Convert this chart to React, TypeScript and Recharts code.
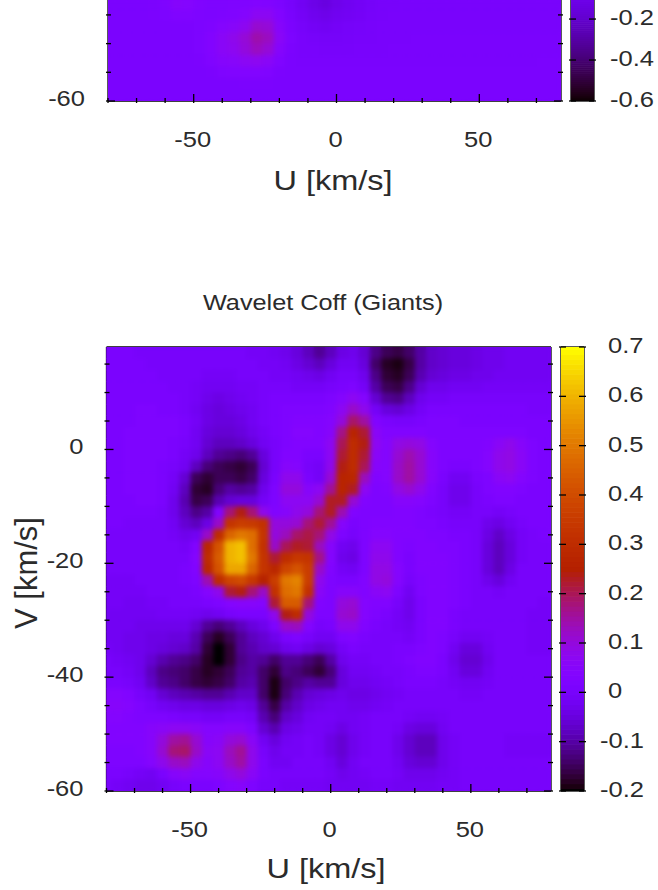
import React from "react";
import { ScatterChart, Scatter, XAxis, YAxis } from "recharts";

const U_CENTERS = [-80, -76, -72, -68, -64, -60, -56, -52, -48, -44, -40, -36, -32, -28, -24, -20, -16, -12, -8, -4, 0, 4, 8, 12, 16, 20, 24, 28, 32, 36, 40, 44, 48, 52, 56, 60, 64, 68, 72, 76];
const GIANT_V = [17, 15, 13, 11, 9, 7, 5, 3, 1, -1, -3, -5, -7, -9, -11, -13, -15, -17, -19, -21, -23, -25, -27, -29, -31, -33, -35, -37, -39, -41, -43, -45, -47, -49, -51, -53, -55, -57, -59];
const TOP_V = [-43, -45, -47, -49, -51, -53, -55, -57, -59];

// wavelet coefficient x 100, top row first
const GIANT_COEFF = [
  [1,1,1,0,0,0,0,0,0,0,0,0,0,-1,-1,-2,-3,-5,-8,-11,-8,-4,-3,-6,-12,-15,-16,-14,-10,-7,-6,-5,-5,-4,-3,-3,-2,-2,-2,-2],
  [1,1,1,1,0,0,0,0,0,0,0,0,0,0,-1,-1,-2,-4,-6,-8,-5,-2,-2,-5,-14,-18,-19,-16,-10,-7,-6,-5,-5,-4,-3,-3,-2,-2,-2,-2],
  [1,1,1,1,1,0,0,0,0,-1,-1,-1,0,0,0,-1,-1,-2,-3,-4,-2,0,0,-3,-12,-17,-18,-15,-9,-6,-5,-4,-4,-3,-3,-2,-2,-2,-2,-2],
  [1,1,1,1,1,1,0,0,-1,-2,-2,-2,-1,-1,0,0,0,-1,-1,-1,0,1,2,-1,-10,-15,-16,-12,-6,-3,-3,-2,-2,-2,-1,-1,-1,-1,-1,-1],
  [1,1,1,1,1,1,1,0,-1,-3,-4,-3,-2,-1,0,1,1,1,1,1,2,4,7,4,-6,-11,-12,-8,-3,-1,-1,0,0,0,0,0,0,0,0,0],
  [1,1,1,2,2,1,1,0,-2,-4,-5,-4,-3,-2,0,1,2,2,2,2,3,7,12,8,-1,-5,-6,-4,-1,1,1,1,1,1,1,1,1,1,0,0],
  [1,1,1,2,2,2,2,1,-1,-4,-5,-5,-4,-2,0,1,2,3,3,3,4,10,19,15,3,1,0,0,1,2,2,2,1,1,1,1,1,1,1,1],
  [1,1,2,2,2,2,2,1,-2,-5,-6,-6,-5,-3,-1,1,2,4,4,3,5,17,27,22,6,3,3,3,3,2,2,2,2,2,2,2,2,2,1,1],
  [1,1,2,2,2,2,1,0,-2,-6,-8,-8,-7,-5,-2,0,2,3,3,3,7,20,30,24,7,4,9,10,9,4,2,2,2,2,3,6,8,5,2,1],
  [1,1,2,2,2,2,1,-1,-3,-8,-11,-12,-13,-11,-5,0,3,3,1,1,7,22,30,22,6,4,11,14,11,5,2,2,2,2,4,8,9,6,2,1],
  [1,1,2,2,2,1,0,-2,-8,-13,-15,-16,-17,-15,-6,0,5,4,0,-1,8,24,30,20,5,4,12,15,11,5,2,1,1,2,4,8,9,6,2,1],
  [1,1,2,2,2,1,-1,-6,-15,-17,-15,-15,-16,-14,-5,1,8,8,1,-1,11,27,28,13,3,4,12,15,11,5,1,-2,-2,1,2,6,7,4,2,1],
  [1,1,2,2,2,1,-2,-8,-17,-18,-13,-10,-11,-10,-3,2,10,10,5,7,16,27,23,7,2,3,9,11,8,3,0,-3,-3,0,2,3,3,2,1,1],
  [1,1,1,2,2,1,-3,-9,-16,-15,-9,-6,-5,-5,-1,2,7,7,7,11,23,23,11,3,2,2,5,5,4,2,0,-3,-3,0,1,2,2,1,1,1],
  [1,1,1,1,1,0,-3,-8,-12,-10,3,18,24,18,8,3,5,8,10,18,23,14,3,2,2,2,3,3,2,1,0,-1,-1,0,0,-1,0,1,1,1],
  [1,1,0,0,0,0,-2,-6,-8,-4,12,33,36,35,32,10,10,11,18,22,16,5,1,2,3,3,3,3,2,2,1,0,0,0,-3,-4,-2,0,1,1],
  [0,0,0,0,0,0,-1,-3,-2,12,30,46,50,48,33,10,13,19,21,18,9,2,0,2,4,4,3,3,3,2,2,1,1,0,-4,-7,-4,-1,0,1],
  [0,0,0,0,0,0,0,-1,3,28,42,60,62,48,32,12,20,23,22,13,5,-2,-3,2,7,7,3,2,3,3,2,2,1,0,-5,-8,-5,-1,0,0],
  [0,0,0,0,0,0,0,0,4,30,44,60,62,50,33,22,30,34,33,17,4,-3,-4,2,8,8,3,1,3,3,3,2,1,0,-5,-8,-5,-1,0,0],
  [0,0,0,0,0,0,0,1,3,28,42,58,58,46,33,28,38,42,36,12,3,-1,-2,2,9,9,4,1,3,3,3,2,1,0,-5,-8,-4,0,0,0],
  [-1,-1,-1,0,0,0,0,1,2,14,30,38,40,34,26,36,50,52,36,8,2,1,1,3,9,10,4,0,2,3,3,2,1,0,-3,-5,-2,0,0,0],
  [-1,-1,-1,-1,0,0,0,0,1,4,8,22,24,18,12,32,48,50,32,6,2,5,5,3,6,7,2,-2,2,3,3,2,1,0,0,-1,0,0,0,0],
  [-1,-1,-2,-2,-1,-1,0,0,0,1,2,4,5,5,4,22,44,44,18,3,2,10,11,4,3,3,0,-3,1,3,3,2,1,0,0,0,0,0,0,-1],
  [-2,-2,-2,-2,-2,-1,-1,-1,-2,-3,-2,0,1,1,1,8,24,30,10,2,2,11,12,4,2,1,-1,-3,1,3,3,1,0,0,0,0,0,0,-1,-1],
  [-2,-2,-2,-3,-3,-3,-3,-3,-6,-11,-13,-11,-8,-5,-3,2,12,13,4,0,1,8,8,3,1,0,-1,-2,1,3,3,1,0,0,0,0,0,0,-1,-1],
  [-2,-2,-3,-3,-4,-4,-5,-5,-9,-15,-18,-15,-11,-8,-6,-3,1,2,0,-2,-2,2,3,1,0,0,0,-1,1,3,2,0,-2,-2,-1,0,0,0,-1,-1],
  [-1,-2,-3,-3,-4,-5,-6,-7,-10,-17,-20,-17,-11,-9,-7,-6,-3,-2,-4,-6,-5,-1,1,0,0,0,1,1,2,3,2,-2,-5,-5,-2,0,0,0,-1,-1],
  [0,-1,-2,-3,-6,-9,-11,-12,-14,-18,-20,-17,-12,-10,-11,-14,-11,-11,-13,-15,-10,-3,-1,-1,0,0,1,2,3,3,1,-3,-6,-6,-3,0,0,0,0,0],
  [0,0,-1,-3,-8,-12,-13,-14,-16,-18,-17,-15,-11,-10,-14,-17,-12,-13,-15,-17,-13,-5,-2,-2,-1,0,0,1,2,2,1,-2,-5,-5,-2,0,0,0,0,0],
  [1,1,0,-2,-7,-11,-12,-14,-16,-17,-16,-14,-10,-9,-14,-19,-14,-12,-10,-11,-11,-5,-3,-3,-2,-1,0,1,1,1,0,-1,-2,-2,-1,0,0,0,0,0],
  [4,4,3,0,-2,-6,-8,-9,-10,-11,-11,-9,-7,-7,-14,-19,-13,-9,-6,-5,-4,-3,-4,-4,-3,-2,-1,0,0,0,0,0,-1,-1,0,0,0,0,0,0],
  [5,5,4,2,0,-2,-3,-4,-4,-5,-5,-4,-3,-4,-11,-16,-10,-7,-4,-3,-2,-2,-3,-3,-2,-1,0,0,0,0,0,0,0,0,0,0,0,0,0,0],
  [4,4,3,2,2,2,1,0,0,-1,-1,0,0,-1,-9,-13,-7,-5,-2,-1,-1,-2,-2,-1,0,0,0,-1,-2,-2,-1,0,0,0,0,0,0,0,0,0],
  [3,3,3,3,5,6,7,7,6,4,4,5,5,2,-6,-9,-4,-3,-1,-1,-2,-4,-2,-1,0,0,-1,-4,-5,-5,-2,0,0,0,0,0,0,0,0,0],
  [3,3,3,3,5,10,15,16,11,5,6,10,11,6,-2,-5,-2,-1,0,-1,-4,-6,-3,-1,0,0,-3,-6,-8,-8,-3,-1,0,0,0,0,-1,-1,-1,-1],
  [2,2,2,3,5,11,18,19,12,6,7,13,16,8,0,-3,-1,-1,0,-1,-4,-6,-3,-1,0,0,-3,-6,-8,-8,-3,-1,0,0,0,0,-1,-1,-1,-1],
  [2,2,2,2,4,8,12,13,8,5,7,12,15,8,1,-2,-2,0,0,0,-2,-5,-2,0,0,0,-2,-5,-6,-6,-3,-1,0,0,0,0,0,0,0,0],
  [1,1,0,-1,-2,1,5,6,4,4,5,8,10,6,1,0,0,0,0,0,-1,-3,-2,-1,0,0,-1,-3,-3,-3,-2,-1,0,0,0,0,0,0,0,0],
  [0,-1,-2,-3,-3,-2,0,1,1,1,2,4,5,2,0,0,-1,-1,-1,-1,-2,-2,-2,-2,-1,-1,-2,-2,-2,-2,-1,-1,0,0,0,0,0,0,0,0],
];

const TOP_COEFF = [
  [3,3,3,3,4,7,14,12,8,6,6,7,8,10,9,5,0,-6,-11,-14,-10,-7,-4,-2,0,0,1,1,1,1,1,1,1,1,1,1,1,1,1,1],
  [3,3,3,3,4,5,8,8,6,5,6,8,12,20,20,10,2,-3,-8,-10,-7,-5,-3,-1,0,1,1,1,1,1,1,1,1,1,1,1,1,1,1,1],
  [3,3,3,3,3,4,4,4,5,7,12,16,22,34,32,15,4,-1,-4,-6,-3,-2,-1,0,1,1,1,1,1,1,1,1,1,1,1,1,1,1,1,1],
  [3,3,3,3,3,3,3,3,5,10,18,24,32,43,38,18,5,1,-1,-2,-2,-1,0,0,1,1,1,2,2,2,2,2,2,2,2,2,2,2,2,2],
  [3,3,3,3,3,3,3,3,5,10,18,22,30,38,32,14,4,1,1,0,0,0,1,1,1,2,2,2,2,2,2,2,2,2,2,2,2,2,2,2],
  [3,3,3,3,3,3,3,3,4,8,14,16,20,22,18,8,3,2,2,2,2,2,2,2,2,2,2,2,2,2,2,2,2,2,2,2,2,2,3,3],
  [3,3,3,3,3,3,3,3,3,4,7,9,10,10,8,4,3,3,3,3,3,3,3,3,3,3,3,3,3,3,3,3,3,3,3,3,3,3,3,3],
  [3,3,3,3,3,3,3,3,3,3,3,3,4,4,4,3,3,3,3,3,3,3,3,3,3,3,3,3,3,3,3,3,3,3,3,3,3,3,3,3],
  [3,3,3,3,3,3,3,3,3,3,3,3,3,3,3,3,3,3,3,3,3,3,3,3,3,3,3,3,3,3,3,3,3,3,3,3,3,3,3,3],
];

const GIANT_BAR_LEVELS = [-20,-19,-18,-17,-16,-15,-14,-13,-12,-11,-10,-9,-8,-7,-6,-5,-4,-3,-2,-1,0,1,2,3,4,5,6,7,8,9,10,11,12,13,14,15,16,17,18,19,20,21,22,23,24,25,26,27,28,29,30,31,32,33,34,35,36,37,38,39,40,41,42,43,44,45,46,47,48,49,50,51,52,53,54,55,56,57,58,59,60,61,62,63,64,65,66,67,68,69,70];
const TOP_BAR_LEVELS = [-60,-59,-58,-57,-56,-55,-54,-53,-52,-51,-50,-49,-48,-47,-46,-45,-44,-43,-42,-41,-40,-39,-38,-37,-36,-35,-34,-33,-32,-31,-30,-29,-28,-27,-26,-25,-24,-23,-22,-21,-20,-19,-18,-17,-16,-15,-14,-13,-12,-11,-10];

const U_TICKS = [-80, -70, -60, -50, -40, -30, -20, -10, 0, 10, 20, 30, 40, 50, 60, 70];
const U_LABELS = [-50, 0, 50];
const GIANT_V_TICKS = [-60, -55, -50, -45, -40, -35, -30, -25, -20, -15, -10, -5, 0, 5, 10, 15];
const GIANT_V_LABELS = [-60, -40, -20, 0];
const TOP_V_TICKS = [-60, -55, -50, -45];
const TOP_V_LABELS = [-60];
const GIANT_BAR_TICKS = [-0.2, -0.1, 0, 0.1, 0.2, 0.3, 0.4, 0.5, 0.6, 0.7];
const TOP_BAR_TICKS = [-0.6, -0.4, -0.2];

const FONT = "Liberation Sans, Arial, sans-serif";
const INK = "#2b2b2b";

// gnuplot's default pm3d palette (rgbformulae 7,5,15)
const palette = (value: number, min: number, max: number) => {
  const g = Math.min(1, Math.max(0, (value - min) / (max - min)));
  const r = Math.sqrt(g);
  const gr = g * g * g;
  const b = Math.max(0, Math.sin(2 * Math.PI * g));
  return `rgb(${Math.round(r * 255)},${Math.round(gr * 255)},${Math.round(b * 255)})`;
};

const toCells = (rows: number[][], vs: number[]) =>
  rows.flatMap((row, r) => row.map((c, i) => ({ u: U_CENTERS[i], v: vs[r], val: c / 100 })));
const toBar = (levels: number[]) => levels.map((l) => ({ u: 0.5, v: l / 100, val: l / 100 }));

// the original picture is stretched sideways
const WideText = ({ x, y, size = 22, anchor = "middle", children }: any) => (
  <text
    transform={`translate(${x} ${y}) scale(1.16 1)`}
    fontFamily={FONT}
    fontSize={size}
    textAnchor={anchor}
    fill={INK}
  >
    {children}
  </text>
);

const Panel = ({
  box,
  uDomain,
  vDomain,
  uTicks = [],
  uLabels = [],
  vTicks,
  vLabels,
  data,
  cellW,
  cellH,
  range,
  isBar = false,
  hasTop = true,
  children,
}: any) => {
  const uTick = (side: string) => (p: any) => {
    const major = uLabels.includes(p.payload.value);
    const len = major ? 9 : 5;
    const dir = side === "bottom" ? -1 : 1;
    return (
      <g>
        <line x1={p.x} x2={p.x} y1={p.y} y2={p.y + dir * len} stroke="#000" strokeWidth={1.3} />
        {side === "bottom" && major && (
          <WideText x={p.x - 1} y={p.y + 44}>
            {p.payload.value}
          </WideText>
        )}
      </g>
    );
  };
  const vTick = (side: string) => (p: any) => {
    const value = p.payload.value;
    const major = isBar || vLabels.includes(value);
    const len = isBar ? 7 : major ? 9 : 5;
    const dir = side === "left" ? 1 : -1;
    return (
      <g>
        <line x1={p.x} x2={p.x + dir * len} y1={p.y} y2={p.y} stroke="#000" strokeWidth={1.3} />
        {!isBar && side === "left" && major && (
          <WideText x={p.x - 21} y={p.y + 5} anchor="end">
            {value}
          </WideText>
        )}
        {isBar && side === "right" && (
          <WideText x={p.x + (value < 0 ? 14 : 22)} y={p.y + 6} anchor="start">
            {value}
          </WideText>
        )}
      </g>
    );
  };
  // cells run a bit long to the right and down so the next one covers the seam
  const cell = (p: any) => (
    <rect
      x={p.cx - cellW / 2}
      y={p.cy - cellH / 2}
      width={cellW + (isBar ? 0 : 3)}
      height={cellH + 0.6}
      fill={palette(p.val, range[0], range[1])}
    />
  );
  const axisLine = { stroke: "#000", strokeWidth: 1.3 };
  return (
    <div style={{ position: "absolute", left: 0, top: 0 }}>
      <ScatterChart
        width={658}
        height={890}
        margin={{
          top: hasTop ? box.top - 1 : box.top,
          bottom: 890 - box.bottom - 1,
          left: box.left - 1,
          right: 658 - box.right - 1,
        }}
      >
        <Scatter data={data} dataKey="v" shape={cell} isAnimationActive={false} />
        {!isBar && <Scatter data={data} dataKey="v" shape={cell} className="soft-map" isAnimationActive={false} />}
        <XAxis
          type="number"
          dataKey="u"
          domain={uDomain}
          allowDataOverflow
          ticks={uTicks}
          interval={0}
          height={1}
          tickSize={0}
          tickLine={false}
          tick={uTick("bottom")}
          axisLine={axisLine}
        />
        {hasTop && (
          <XAxis
            xAxisId="top"
            orientation="top"
            type="number"
            domain={uDomain}
            allowDataOverflow
            ticks={uTicks}
            interval={0}
            height={1}
            tickSize={0}
            tickLine={false}
            tick={uTick("top")}
            axisLine={axisLine}
          />
        )}
        <YAxis
          type="number"
          dataKey="v"
          domain={vDomain}
          allowDataOverflow
          ticks={vTicks}
          interval={0}
          width={1}
          tickSize={0}
          tickLine={false}
          tick={vTick("left")}
          axisLine={axisLine}
        />
        <YAxis
          yAxisId="right"
          orientation="right"
          type="number"
          domain={vDomain}
          allowDataOverflow
          ticks={vTicks}
          interval={0}
          width={1}
          tickSize={0}
          tickLine={false}
          tick={vTick("right")}
          axisLine={axisLine}
        />
        {children}
      </ScatterChart>
    </div>
  );
};

export default function App() {
  return (
    <div style={{ position: "absolute", left: 0, top: 0, width: 658, height: 890, overflow: "hidden", background: "#fff" }}>
      <style>{`.soft-map { filter: blur(2.6px); }`}</style>
      <Panel
        box={{ left: 108, right: 561, top: 0, bottom: 101 }}
        uDomain={[-80, 78.6]}
        vDomain={[-60, -42.4]}
        uTicks={U_TICKS}
        uLabels={U_LABELS}
        vTicks={TOP_V_TICKS}
        vLabels={TOP_V_LABELS}
        data={toCells(TOP_COEFF, TOP_V)}
        cellW={11.4}
        cellH={11.5}
        range={[-0.6, 2.1]}
        hasTop={false}
      >
        <WideText x={333} y={190} size={28}>U [km/s]</WideText>
      </Panel>
      <Panel
        box={{ left: 571, right: 594, top: 0, bottom: 101 }}
        uDomain={[0, 1]}
        vDomain={[-0.6, -0.107]}
        vTicks={TOP_BAR_TICKS}
        vLabels={TOP_BAR_TICKS}
        data={toBar(TOP_BAR_LEVELS)}
        cellW={23}
        cellH={2.05}
        range={[-0.6, 2.1]}
        isBar
        hasTop={false}
      />
      <Panel
        box={{ left: 106.5, right: 551, top: 347, bottom: 791 }}
        uDomain={[-80, 78.6]}
        vDomain={[-60, 18]}
        uTicks={U_TICKS}
        uLabels={U_LABELS}
        vTicks={GIANT_V_TICKS}
        vLabels={GIANT_V_LABELS}
        data={toCells(GIANT_COEFF, GIANT_V)}
        cellW={11.2}
        cellH={11.4}
        range={[-0.2, 0.7]}
      >
        <WideText x={323} y={310} size={21.8}>Wavelet Coff (Giants)</WideText>
        <WideText x={326} y={878} size={28}>U [km/s]</WideText>
        <text
          transform="translate(37 573) rotate(-90)"
          fontFamily={FONT}
          fontSize={31}
          textAnchor="middle"
          fill={INK}
        >
          V [km/s]
        </text>
      </Panel>
      <Panel
        box={{ left: 561, right: 584, top: 347, bottom: 791 }}
        uDomain={[0, 1]}
        vDomain={[-0.2, 0.7]}
        vTicks={GIANT_BAR_TICKS}
        vLabels={GIANT_BAR_TICKS}
        data={toBar(GIANT_BAR_LEVELS)}
        cellW={23}
        cellH={4.95}
        range={[-0.2, 0.7]}
        isBar
      />
    </div>
  );
}
